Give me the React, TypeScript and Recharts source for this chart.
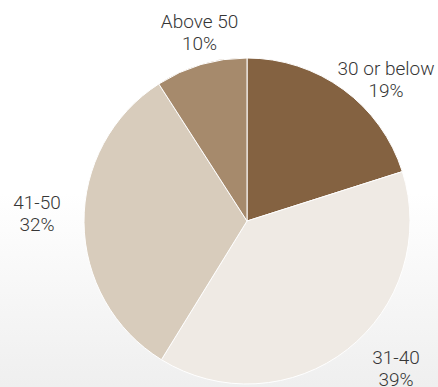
import React from 'react';
import { PieChart, Pie, Cell } from 'recharts';

const categories = ['30 or below', '31-40', '41-50', 'Above 50'];
const sliceValues = [20.1, 38.7, 32.1, 9.1];
// percentages as printed in the labels
const labelPercents = ['19%', '39%', '32%', '10%'];
const colors = ['#846241', '#efeae4', '#d8ccbc', '#a68a6c'];
// small label nudges (px) applied after placing labels along each slice's mid-angle
const labelNudge = [
  [21, 20],
  [26, -10],
  [-10, -9],
  [9, 4],
];

const data = categories.map((name, i) => ({ name, value: sliceValues[i], label: labelPercents[i] }));

const RAD = Math.PI / 180;

const renderLabel = (props: any) => {
  const { cx, cy, midAngle, outerRadius, index } = props;
  const r = outerRadius + 37;
  const x = cx + r * Math.cos(-midAngle * RAD) + labelNudge[index][0];
  const yc = cy + r * Math.sin(-midAngle * RAD) + labelNudge[index][1];
  return (
    <text
      x={x}
      y={yc}
      textAnchor="middle"
      fill="#363636"
      fontSize={19}
      fontWeight={300}
      fontFamily="Roboto, 'Liberation Sans', Arial, sans-serif"
    >
      <tspan x={x} y={yc - 5}>{data[index].name}</tspan>
      <tspan x={x} y={yc + 17}>{data[index].label}</tspan>
    </text>
  );
};

export default function App() {
  return (
    <div
      style={{
        position: 'absolute',
        left: 0,
        top: 0,
        width: 438,
        height: 387,
        background: 'linear-gradient(to bottom, #ffffff 0%, #ffffff 50%, #efefef 100%)',
      }}
    >
      <PieChart width={438} height={387} margin={{ top: 0, right: 0, bottom: 0, left: 0 }}>
        <Pie
          data={data}
          dataKey="value"
          nameKey="name"
          cx={247}
          cy={221}
          outerRadius={163}
          startAngle={90}
          endAngle={-270}
          stroke="#ffffff"
          strokeWidth={1}
          label={renderLabel}
          labelLine={false}
          isAnimationActive={false}
        >
          {data.map((d, i) => (
            <Cell key={d.name} fill={colors[i]} />
          ))}
        </Pie>
      </PieChart>
    </div>
  );
}
